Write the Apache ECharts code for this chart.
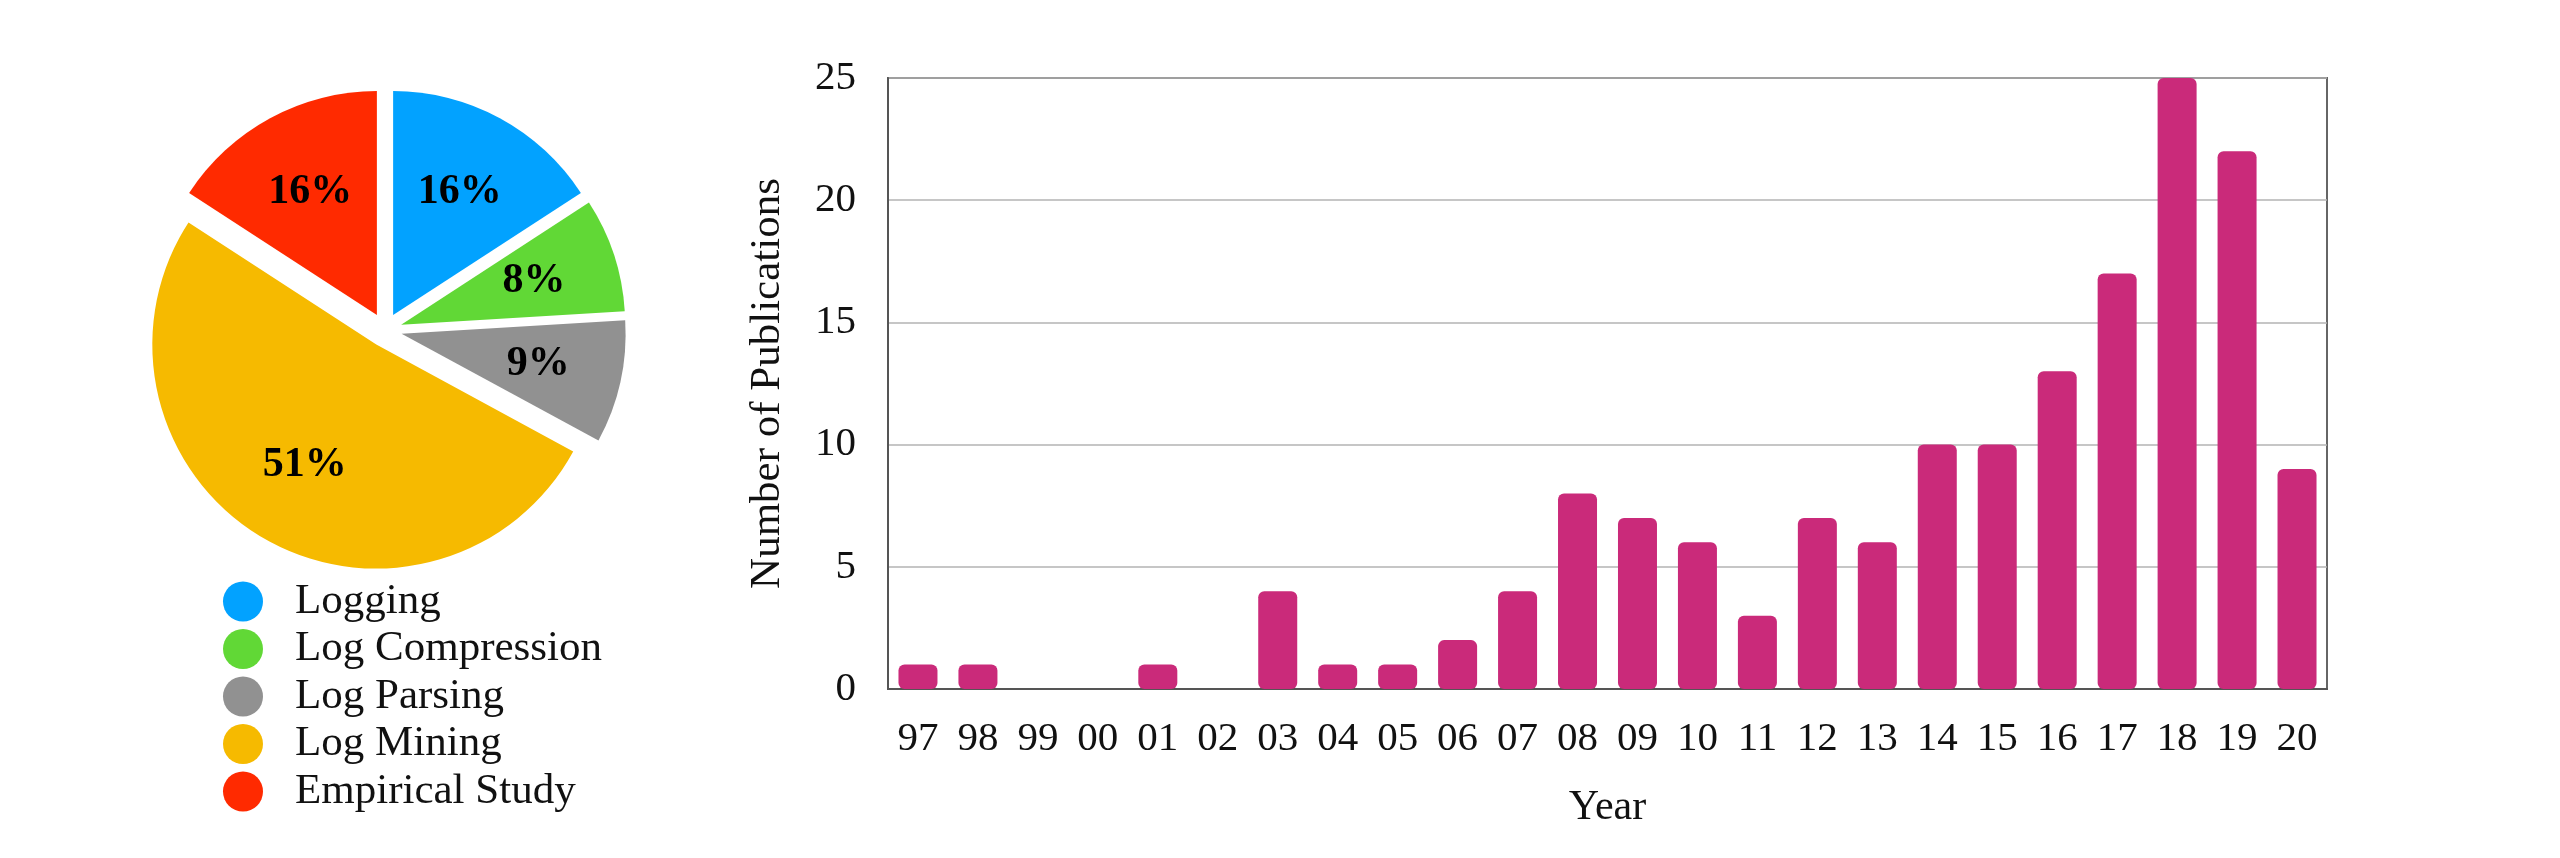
<!DOCTYPE html>
<html>
<head>
<meta charset="utf-8">
<script src="https://cdn.jsdelivr.net/npm/echarts@6/dist/echarts.min.js"></script>
<style>
html,body{margin:0;padding:0;background:#fff;}
#main{width:2560px;height:858px;}
</style>
</head>
<body>
<div id="main"></div>
<script>
// ---- data ----
const years = ['97','98','99','00','01','02','03','04','05','06','07','08','09','10','11','12','13','14','15','16','17','18','19','20'];
const publications = [1,1,0,0,1,0,4,1,1,2,4,8,7,6,3,7,6,10,10,13,17,25,22,9];
const topics = ['Logging','Log Compression','Log Parsing','Log Mining','Empirical Study'];
const topicCounts = [25,13,14,81,25];
const yTicks = [0,5,10,15,20,25];

// ---- styles ----
const topicColors = ['#02A2FF','#61D836','#919191','#F6BA00','#FF2A00'];
const barColor = '#CA2A7A';
const FONT = 'Liberation Serif, Times New Roman, serif';

const pieData = topics.map((n,i)=>({name:n, value:topicCounts[i], selected:true, itemStyle:{color:topicColors[i]}}));
const labelData = topics.map((n,i)=>({name:n, value:topicCounts[i], selected:true}));

const chart = echarts.init(document.getElementById('main'), null, {renderer:'canvas'});
chart.setOption({
  animation:false,
  backgroundColor:'#fff',
  textStyle:{fontFamily:FONT},
  legend:{
    orient:'vertical',
    left:223, top:580, padding:0,
    data:topics,
    icon:'circle',
    itemWidth:40, itemHeight:40, itemGap:4.5,
    selectedMode:false,
    textStyle:{fontFamily:FONT, fontSize:43, color:'#111', lineHeight:40, padding:[0,0,0,27]}
  },
  grid:{left:888, right:233, top:78, bottom:169, show:true, borderColor:'#666', borderWidth:2, containLabel:false},
  xAxis:{
    type:'category', data:years,
    axisLine:{show:true, lineStyle:{color:'#555', width:2}},
    axisTick:{show:false},
    axisLabel:{fontFamily:FONT, fontSize:41, color:'#111', margin:30, interval:0},
    name:'Year', nameLocation:'middle', nameGap:98,
    nameTextStyle:{fontFamily:FONT, fontSize:42, color:'#111'}
  },
  yAxis:{
    type:'value', min:0, max:25, interval:5,
    axisLine:{show:true, lineStyle:{color:'#555', width:2}},
    axisTick:{show:false},
    axisLabel:{fontFamily:FONT, fontSize:41, color:'#111', margin:32,
      formatter:(v)=> yTicks.indexOf(v)>=0 ? String(v) : ''},
    splitLine:{show:true, lineStyle:{color:'#b3b3b3', width:1.5}},
    name:'Number of Publications', nameLocation:'middle', nameGap:99, nameRotate:90,
    nameTextStyle:{fontFamily:FONT, fontSize:43, color:'#111'}
  },
  series:[
    {
      type:'bar', data:publications, barWidth:39,
      itemStyle:{color:barColor, borderRadius:6},
      silent:true
    },
    {
      type:'pie', center:[385,330], radius:[0,224],
      startAngle:90, clockwise:true,
      selectedMode:'multiple', selectedOffset:17,
      data:pieData,
      label:{show:false}, labelLine:{show:false},
      silent:true,
      emphasis:{disabled:true}
    },
    {
      type:'pie', center:[385,330], radius:[50,224],
      startAngle:90, clockwise:true,
      selectedMode:'multiple', selectedOffset:17,
      percentPrecision:0,
      data:labelData,
      itemStyle:{color:'rgba(0,0,0,0)'},
      label:{show:true, position:'inside', formatter:'{d}%', fontFamily:FONT, fontSize:42, fontWeight:'bold', color:'#000'},
      labelLine:{show:false},
      legendHoverLink:false,
      silent:true,
      emphasis:{disabled:true}
    }
  ]
});
</script>
</body>
</html>
